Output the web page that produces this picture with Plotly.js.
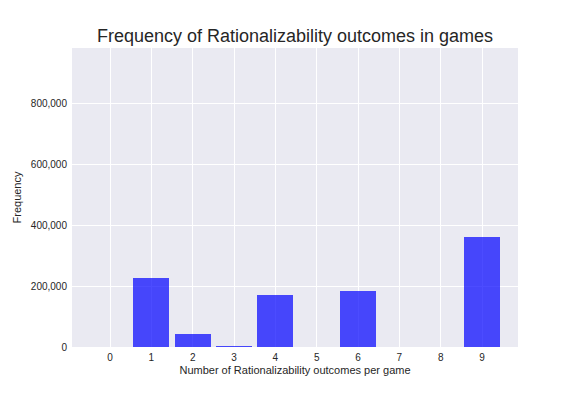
<!DOCTYPE html>
<html><head><meta charset="utf-8">
<script src="https://cdn.plot.ly/plotly-3.0.1.min.js"></script>
<style>body{margin:0;padding:0;}#chart{width:576px;height:396px;}</style>
</head><body><div id="chart"></div>
<script>
const categories = [0,1,2,3,4,5,6,7,8,9];
const frequencies = [0,226000,42000,2300,170000,0,183000,0,0,360500];
const xTicks = ['0','1','2','3','4','5','6','7','8','9'];

const trace = {
  type: 'bar',
  x: categories,
  y: frequencies,
  width: 0.87,
  marker: {color: 'rgba(0,0,255,0.7)', line: {width: 0}},
  hoverinfo: 'skip'
};
const font = {family: 'Liberation Sans, Arial, sans-serif'};
const layout = {
  width: 576, height: 396,
  margin: {l: 72, r: 58, t: 48, b: 49},
  paper_bgcolor: '#ffffff',
  plot_bgcolor: '#EAEAF2',
  font: {family: font.family, color: '#262626'},
  showlegend: false,
  bargap: 0,
  title: {text: 'Frequency of Rationalizability outcomes in games', font: {size: 18, color: '#262626', family: font.family}, x: 0.5, xanchor: 'center', y: 0.91, yanchor: 'middle', xref: 'paper'},
  xaxis: {
    range: [-0.92, 9.87],
    tickvals: categories, ticktext: xTicks,
    showgrid: true, gridcolor: '#ffffff', gridwidth: 1,
    zeroline: false, showline: false, ticks: '',
    ticklabelstandoff: 3,
    tickfont: {size: 10, color: '#262626'},
    title: {text: 'Number of Rationalizability outcomes per game', font: {size: 11, color: '#262626'}, standoff: 4}
  },
  yaxis: {
    range: [0, 982000],
    tickvals: [0,200000,400000,600000,800000],
    tickformat: ',d',
    showgrid: true, gridcolor: '#ffffff', gridwidth: 1,
    zeroline: false, showline: false, ticks: '',
    ticklabelstandoff: 4,
    tickfont: {size: 10, color: '#262626'},
    title: {text: 'Frequency', font: {size: 11, color: '#262626'}, standoff: 6}
  }
};
Plotly.newPlot('chart', [trace], layout, {displayModeBar: false, staticPlot: true});
</script>
</body></html>
